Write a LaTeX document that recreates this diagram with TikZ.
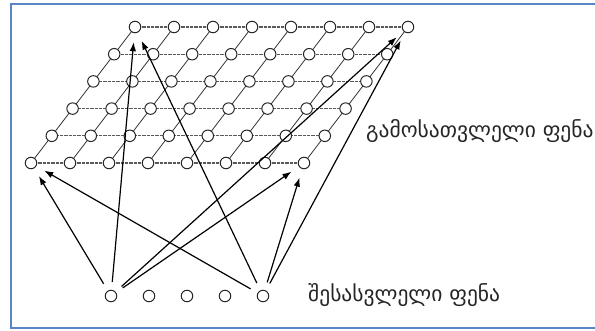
\documentclass[tikz,border=0pt]{standalone}
\usepackage{fontspec}
\newfontfamily\geo{DejaVu Sans}
\usetikzlibrary{arrows.meta}
\definecolor{framecol}{RGB}{91,134,197}
\begin{document}
\begin{tikzpicture}[x=1pt,y=-1pt,
  unit/.style={circle,draw=black!85,fill=white,line width=1pt,minimum size=11.5pt,inner sep=0pt},
  hline/.style={draw=black!65,line width=1.2pt,dash pattern=on 0.8pt off 0.5pt},
  dline/.style={draw=black!80,line width=0.8pt},
  arr/.style={draw=black,line width=1.2pt,-{Latex[length=9pt,width=6.5pt]},shorten <=8pt,shorten >=9pt},
  lab/.style={anchor=west,inner sep=0pt,font=\geo\fontsize{21.5}{25}\selectfont,text=black!85}]
\useasboundingbox (0,0) rectangle (595,330);
\draw[framecol,line width=2pt] (596,4) -- (11,4) -- (11,328) -- (596,328);
% grid nodes
\foreach \i in {0,...,5}{
  \foreach \j in {0,...,7}{
    \coordinate (c\i\j) at ({135-20.8*\i+39*\j},{27+27.2*\i});
  }
}
% lines (drawn first, below the nodes)
\foreach \i in {0,...,5}{
  \foreach \j [evaluate=\j as \k using int(\j+1)] in {0,...,6}{
    \draw[hline] (c\i\j) -- (c\i\k);
  }
}
\foreach \i [evaluate=\i as \ii using int(\i+1)] in {0,...,4}{
  \foreach \j in {0,...,7}{
    \draw[dline] (c\i\j) -- (c\ii\j);
  }
}
\foreach \i in {0,...,5}{
  \foreach \j in {0,...,7}{
    \node[unit] (n\i\j) at (c\i\j) {};
  }
}
% input nodes
\foreach \x [count=\n] in {111,149,187,225,263}{
  \node[unit] (in\n) at (\x,296) {};
}
% arrows
\foreach \s in {in1,in5}{
  \draw[arr] (\s) -- (n50);
  \draw[arr] (\s) -- (n00);
  \draw[arr] (\s) -- (n07);
  \draw[arr] (\s) -- (n57);
}
% labels
\node[lab] (out) at (366,131) {გამოსათვლელი ფენა};
\node[lab] (inp) at (308,295) {შესასვლელი ფენა};
\end{tikzpicture}
\end{document}
